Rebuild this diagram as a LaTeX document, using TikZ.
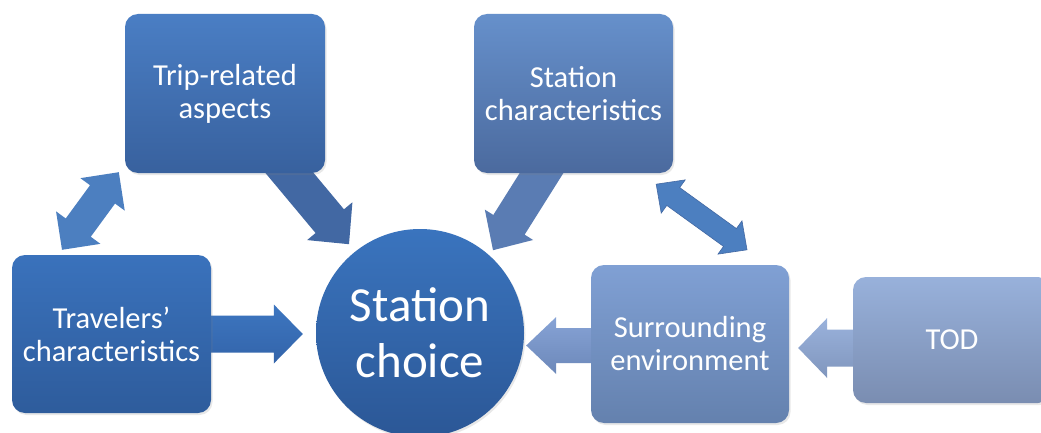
\documentclass[tikz,border=0pt]{standalone}
\usepackage{fontspec}
\setmainfont{Carlito}
\usetikzlibrary{calc,shadows}
\pgfdeclarelayer{bg}
\pgfsetlayers{bg,main}

\definecolor{tripT}{HTML}{4A7EC4}\definecolor{tripB}{HTML}{38619E}
\definecolor{stchT}{HTML}{6690CB}\definecolor{stchB}{HTML}{4B6A9E}
\definecolor{travT}{HTML}{3A72BC}\definecolor{travB}{HTML}{2E5C9C}
\definecolor{chT}{HTML}{3A74BE}\definecolor{chB}{HTML}{2B5796}
\definecolor{surT}{HTML}{80A0D4}\definecolor{surB}{HTML}{6481AE}
\definecolor{todT}{HTML}{98B1DB}\definecolor{todB}{HTML}{7A8DB1}
\definecolor{arTravT}{HTML}{3D76C0}\definecolor{arTravB}{HTML}{3364AA}
\definecolor{arTrip}{HTML}{4268A3}
\definecolor{arSt}{HTML}{5A7CB3}
\definecolor{arDbl}{HTML}{4C7FC0}
\definecolor{arSurT}{HTML}{87A3D6}\definecolor{arSurB}{HTML}{6C88B9}
\definecolor{arTodT}{HTML}{9AB2DC}\definecolor{arTodB}{HTML}{8096BD}

% single block arrow: from, to, half shaft, half head, head length, fill options
\newcommand\blkarrow[6]{%
  \coordinate (tmpB) at ($(#2)!#5!(#1)$);
  \path[#6] ($(#1)!#3!90:(#2)$) -- ($(tmpB)!#3!-90:(#1)$) -- ($(tmpB)!#4!-90:(#1)$)
    -- (#2) -- ($(tmpB)!#4!90:(#1)$) -- ($(tmpB)!#3!90:(#1)$) -- ($(#1)!#3!-90:(#2)$) -- cycle;}
% double block arrow: tip, tip, half shaft, half head, head length, draw options
\newcommand\dblarrow[6]{%
  \coordinate (tmpA) at ($(#1)!#5!(#2)$);
  \coordinate (tmpC) at ($(#2)!#5!(#1)$);
  \path[#6] (#1) -- ($(tmpA)!#4!90:(#2)$) -- ($(tmpA)!#3!90:(#2)$) -- ($(tmpC)!#3!-90:(#1)$)
    -- ($(tmpC)!#4!-90:(#1)$) -- (#2) -- ($(tmpC)!#4!90:(#1)$) -- ($(tmpC)!#3!90:(#1)$)
    -- ($(tmpA)!#3!-90:(#2)$) -- ($(tmpA)!#4!-90:(#2)$) -- cycle;}

\tikzset{
  box/.style={rectangle, rounded corners=13pt, text=white, align=center,
    inner sep=0pt, font=\fontsize{30.5}{33}\selectfont,
    drop shadow={shadow xshift=1.5pt, shadow yshift=-2pt, opacity=0.18}},
  hub/.style={circle, text=white, align=center, inner sep=0pt, minimum size=208pt,
    font=\fontsize{49}{56}\selectfont,
    drop shadow={shadow xshift=1.5pt, shadow yshift=-2pt, opacity=0.18}},
}

\begin{document}
\begin{tikzpicture}[x=1pt,y=-1pt]
\useasboundingbox (0,0) rectangle (1041,433);

\node[box, minimum width=200pt, minimum height=159pt, top color=tripT, bottom color=tripB]
  (trip) at (225,93.5) {Trip-related\\aspects};
\node[box, minimum width=199pt, minimum height=159pt, top color=stchT, bottom color=stchB]
  (stch) at (573.5,93.5) {Station\\characteristics};
\node[box, minimum width=199pt, minimum height=158pt, top color=travT, bottom color=travB]
  (trav) at (111.5,334) {Travelers’\\characteristics};
\node[hub, top color=chT, bottom color=chB] (choice) at (420,333) {Station\\choice};
\node[box, minimum width=198pt, minimum height=158pt, top color=surT, bottom color=surB]
  (surr) at (690,344) {Surrounding\\environment};
\node[box, minimum width=198pt, minimum height=126pt, top color=todT, bottom color=todB]
  (tod) at (952,340) {TOD};

\coordinate (a1s) at ($(trav.east)+(-10,0)$);
\coordinate (a1t) at ($(choice.west)+(-13,1)$);
\coordinate (a2s) at ($(trip.south)+(48,-20)$);
\coordinate (a2t) at ($(trip.south)+(124,71)$);
\coordinate (a3s) at ($(stch.south)+(-22,-16)$);
\coordinate (a3t) at ($(stch.south)+(-80.5,77)$);
\coordinate (a4s) at ($(surr.west)+(10,1.5)$);
\coordinate (a4t) at ($(choice.east)+(2,12.5)$);
\coordinate (a5s) at ($(tod.west)+(10,8)$);
\coordinate (a5t) at ($(surr.east)+(9,4)$);
\coordinate (d1a) at ($(trav.north)+(-49.5,-5)$);
\coordinate (d1b) at ($(trip.south west)+(-6,-1)$);
\coordinate (d2a) at ($(stch.south east)+(-17,11)$);
\coordinate (d2b) at ($(surr.north)+(57,-15)$);

\begin{pgfonlayer}{bg}
\fill[white] (0,0) rectangle (1041,433);
\blkarrow{a1s}{a1t}{18.5pt}{29.5pt}{29pt}{top color=arTravT, bottom color=arTravB}
\blkarrow{a2s}{a2t}{18.5pt}{29.5pt}{30pt}{fill=arTrip}
\blkarrow{a3s}{a3t}{18.5pt}{28.5pt}{30pt}{fill=arSt}
\blkarrow{a4s}{a4t}{17.5pt}{28.5pt}{30pt}{top color=arSurT, bottom color=arSurB}
\blkarrow{a5s}{a5t}{18.5pt}{30pt}{29pt}{top color=arTodT, bottom color=arTodB}
\dblarrow{d1a}{d1b}{15.5pt}{27.5pt}{27.5pt}{fill=arDbl}
\dblarrow{d2a}{d2b}{11pt}{20.5pt}{21pt}{fill=arDbl, draw=arTrip, line width=0.6pt}
\end{pgfonlayer}
\end{tikzpicture}
\end{document}
